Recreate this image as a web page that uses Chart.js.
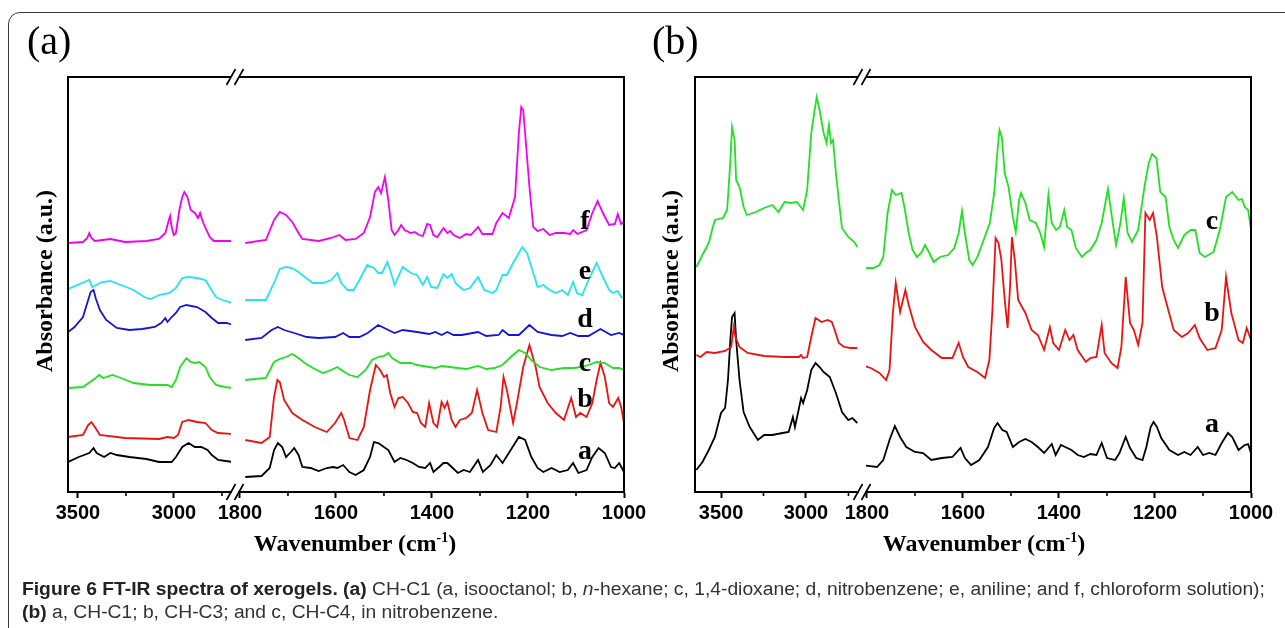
<!DOCTYPE html>
<html><head><meta charset="utf-8">
<script src="https://cdn.jsdelivr.net/npm/chart.js@4/dist/chart.umd.min.js"></script>
<style>
body{margin:0;width:1285px;height:628px;overflow:hidden;background:#fff;position:relative}
canvas{position:absolute;left:0;top:0}
.frame{position:absolute;left:8px;top:12px;width:1330px;height:720px;border:1.5px solid #3a3a3a;border-radius:12px}
.plab{position:absolute;font-family:'Liberation Serif',serif;font-size:40px;line-height:1;color:#000}
.xt{position:absolute;font-family:'Liberation Serif',serif;font-weight:bold;font-size:24px;line-height:1;white-space:nowrap;transform:translateX(-50%)}
.xt sup{font-size:14px;vertical-align:9px;line-height:0}
.yt{position:absolute;font-family:'Liberation Serif',serif;font-weight:bold;font-size:24px;line-height:1;white-space:nowrap;transform:translate(-50%,-50%) rotate(-90deg)}
.cl{position:absolute;font-family:'Liberation Serif',serif;font-weight:bold;font-size:28px;line-height:1;transform:translateX(-50%)}
.cap{position:absolute;left:22px;font-family:'Liberation Sans',sans-serif;font-size:18px;line-height:22px;color:#333;white-space:nowrap;transform:scaleX(1.07);transform-origin:0 0}
.cap b{color:#222}
</style></head><body>
<div class="frame"></div>
<canvas id="aL" width="1285" height="628"></canvas>
<canvas id="aR" width="1285" height="628"></canvas>
<canvas id="bL" width="1285" height="628"></canvas>
<canvas id="bR" width="1285" height="628"></canvas>
<div class="plab" style="left:27px;top:21px">(a)</div>
<div class="plab" style="left:652px;top:21px">(b)</div>
<div class="yt" style="left:44px;top:281px">Absorbance (a.u.)</div>
<div class="yt" style="left:670px;top:281px">Absorbance (a.u.)</div>
<div class="xt" style="left:355px;top:531px">Wavenumber (cm<sup>-1</sup>)</div>
<div class="xt" style="left:984px;top:531px">Wavenumber (cm<sup>-1</sup>)</div>
<div class="cl" style="left:585px;top:206px">f</div>
<div class="cl" style="left:585px;top:256px">e</div>
<div class="cl" style="left:585px;top:304px">d</div>
<div class="cl" style="left:585px;top:348px">c</div>
<div class="cl" style="left:585px;top:384px">b</div>
<div class="cl" style="left:585px;top:436px">a</div>
<div class="cl" style="left:1212px;top:206px">c</div>
<div class="cl" style="left:1212px;top:298px">b</div>
<div class="cl" style="left:1212px;top:409px">a</div>
<div class="cap" style="top:578px"><b>Figure 6 FT-IR spectra of xerogels. (a)</b> CH-C1 (a, isooctanol; b, <i>n</i>-hexane; c, 1,4-dioxane; d, nitrobenzene; e, aniline; and f, chloroform solution);</div>
<div class="cap" style="top:601px"><b>(b)</b> a, CH-C1; b, CH-C3; and c, CH-C4, in nitrobenzene.</div>
<script>
// ---------- Panel (a): wavenumber (cm-1) / absorbance (a.u., offset traces) ----------
const aF_L_wn=[3551,3474,3452,3441,3430,3412,3331,3254,3144,3078,3045,3027,3020,3012,3001,2990,2972,2957,2946,2930,2913,2891,2875,2864,2853,2836,2814,2792,2693];
const aF_L_val=[249,250,254,259,254,251,253,250,251,253,259,272,276,265,257,259,282,295,300,295,282,279,274,279,272,264,255,251,251];
const aF_R_wn=[1789,1746,1729,1717,1704,1691,1678,1670,1636,1610,1593,1580,1559,1542,1529,1519,1512,1506,1498,1491,1484,1478,1470,1464,1457,1444,1436,1427,1419,1410,1404,1397,1389,1376,1368,1362,1355,1342,1329,1319,1304,1295,1274,1266,1253,1240,1227,1219,1214,1210,1206,1197,1189,1180,1168,1155,1142,1125,1112,1106,1097,1078,1066,1055,1044,1031,1019,1013,1006,1000];
const aF_R_val=[249,252,272,280,277,270,259,253,251,254,257,252,253,259,275,300,305,299,315,292,262,257,262,267,262,259,260,257,256,268,267,257,255,264,259,261,257,254,258,257,265,258,258,269,279,274,295,359,385,382,359,305,265,261,263,257,259,259,258,262,258,262,279,291,279,267,268,278,268,270];

const aE_L_wn=[3551,3441,3426,3375,3331,3276,3210,3155,3122,3078,3023,2990,2957,2924,2880,2836,2814,2781,2748,2693];
const aE_L_val=[203,212,205,210,211,207,202,195,193,197,199,204,214,215,214,212,205,195,192,189];
const aE_R_wn=[1789,1746,1729,1717,1704,1691,1678,1665,1648,1627,1610,1597,1589,1576,1563,1551,1535,1521,1512,1504,1493,1487,1478,1461,1444,1431,1419,1410,1402,1389,1376,1368,1359,1351,1342,1334,1321,1304,1291,1274,1266,1253,1244,1231,1212,1202,1189,1180,1168,1155,1142,1129,1117,1106,1098,1087,1074,1057,1044,1031,1023,1013,1006,1000];
const aE_R_val=[192,192,209,223,225,224,220,215,209,209,212,219,209,202,202,212,227,224,219,219,230,222,207,225,219,217,207,215,205,204,218,214,218,209,205,202,204,215,202,199,202,217,217,229,245,239,219,205,207,202,199,202,197,210,199,197,212,229,215,202,199,201,195,194];

const aD_L_wn=[3551,3518,3474,3447,3434,3419,3408,3386,3353,3298,3232,3166,3100,3067,3045,3034,3012,2990,2968,2935,2880,2836,2803,2770,2726,2693];
const aD_L_val=[160,165,175,192,200,202,194,182,172,164,162,163,165,169,174,170,175,179,185,187,185,180,174,169,169,167];
const aD_R_wn=[1789,1755,1734,1721,1708,1687,1661,1636,1602,1585,1572,1551,1534,1512,1495,1478,1461,1431,1406,1393,1380,1368,1355,1338,1304,1287,1261,1253,1240,1219,1197,1180,1151,1129,1112,1095,1074,1049,1027,1010,1000];
const aD_R_val=[152,154,162,165,162,159,155,154,155,159,155,155,159,167,163,159,162,160,158,160,157,160,157,157,160,156,157,162,157,157,167,160,157,156,159,156,156,163,157,159,157];

const aC_L_wn=[3551,3474,3408,3390,3368,3320,3276,3210,3122,3034,3012,2990,2968,2935,2913,2891,2869,2836,2814,2781,2737,2693];
const aC_L_val=[104,105,114,117,114,117,114,109,107,107,105,112,125,134,130,129,130,125,115,107,105,104];
const aC_R_wn=[1789,1746,1729,1717,1704,1691,1678,1665,1648,1627,1610,1597,1589,1572,1555,1538,1525,1512,1500,1491,1483,1466,1444,1431,1406,1393,1380,1363,1346,1329,1304,1287,1270,1253,1236,1219,1206,1193,1176,1151,1125,1104,1091,1074,1057,1040,1023,1010,1000];
const aC_R_val=[112,114,130,133,135,138,134,129,124,119,122,125,122,117,115,122,132,135,136,139,134,129,129,127,125,124,126,125,124,123,126,123,124,127,135,142,139,132,125,122,124,124,125,127,130,129,124,124,122];

const aB_L_wn=[3551,3474,3447,3430,3412,3386,3254,3078,3034,3001,2979,2957,2924,2880,2836,2803,2770,2693];
const aB_L_val=[55,57,67,70,65,57,54,53,55,54,57,70,72,70,69,62,59,58];
const aB_R_wn=[1789,1755,1738,1729,1722,1717,1708,1691,1670,1644,1619,1602,1589,1583,1572,1555,1542,1529,1517,1508,1500,1494,1487,1478,1470,1461,1450,1440,1431,1423,1414,1406,1397,1389,1380,1374,1368,1359,1351,1342,1329,1317,1306,1295,1283,1266,1257,1251,1244,1231,1223,1210,1197,1184,1176,1159,1142,1125,1110,1100,1091,1078,1066,1057,1049,1040,1031,1023,1012,1006,1000];
const aB_R_val=[52,49,55,95,112,110,92,79,72,65,60,69,79,72,54,52,65,102,127,122,115,117,99,85,94,95,89,80,79,69,65,89,69,65,90,84,90,72,65,72,74,79,102,79,62,60,85,115,102,69,89,125,147,125,105,89,79,72,94,75,79,75,89,112,129,115,89,85,94,85,69];

const aA_L_wn=[3551,3496,3441,3419,3403,3364,3331,3298,3232,3144,3078,3012,2990,2957,2924,2891,2858,2825,2803,2770,2693];
const aA_L_val=[30,35,39,44,39,35,39,37,35,33,30,30,35,45,49,45,45,42,37,32,30];
const aA_R_wn=[1789,1755,1738,1729,1721,1712,1704,1694,1687,1678,1670,1653,1636,1619,1606,1597,1585,1572,1559,1542,1529,1521,1512,1500,1491,1478,1466,1453,1440,1427,1414,1404,1397,1385,1376,1368,1359,1346,1334,1321,1304,1294,1278,1266,1253,1236,1219,1206,1193,1180,1168,1151,1134,1117,1106,1095,1078,1066,1053,1040,1027,1019,1010,1000];
const aA_R_val=[15,16,24,42,49,45,35,40,44,37,25,24,21,24,25,24,27,20,17,22,35,50,49,45,42,30,34,32,29,25,24,29,20,25,29,29,25,19,22,20,32,20,27,37,29,42,55,52,35,24,20,24,20,22,29,19,22,35,44,39,25,24,29,20];

// ---------- Panel (b) ----------
const bC_L_wn=[3645,3609,3572,3548,3536,3488,3464,3447,3435,3420,3411,3391,3367,3348,3295,3246,3198,3162,3126,3089,3053,3017,2993,2969,2949,2937,2920,2896,2879,2865,2853,2841,2824,2807,2788,2751,2715,2698];
const bC_L_val=[225,237,249,265,272,274,282,325,365,352,312,305,285,277,280,284,287,280,290,289,290,282,302,359,382,395,382,359,349,367,349,352,319,292,264,255,250,245];
const bC_R_wn=[1812,1787,1774,1766,1757,1748,1740,1728,1722,1713,1705,1696,1687,1679,1670,1661,1648,1631,1618,1609,1602,1596,1587,1580,1570,1557,1544,1535,1528,1524,1519,1513,1505,1496,1490,1483,1479,1470,1461,1448,1439,1431,1422,1415,1406,1398,1389,1383,1374,1365,1352,1344,1335,1322,1311,1298,1291,1281,1272,1265,1257,1248,1235,1222,1213,1206,1197,1189,1178,1170,1161,1152,1139,1126,1116,1107,1096,1078,1065,1052,1039,1026,1019,1013,1006,1000];
const bC_R_val=[224,224,227,235,279,302,297,299,285,259,242,235,239,247,239,230,235,237,244,259,281,259,232,227,235,252,269,299,342,362,355,319,305,275,260,292,299,289,272,269,259,245,297,269,262,265,282,265,262,244,235,239,242,252,269,303,279,247,269,294,259,250,262,305,329,338,334,300,295,265,252,244,257,262,262,239,235,240,262,295,300,292,293,285,282,263];

const bB_L_wn=[3645,3621,3585,3536,3476,3440,3425,3415,3391,3343,3246,3126,3041,3029,3017,2993,2969,2944,2908,2872,2848,2831,2807,2775,2739,2698];
const bB_L_val=[137,135,140,139,141,145,165,155,145,139,136,135,135,137,134,135,155,174,170,172,170,162,149,145,144,144];
const bB_R_wn=[1812,1792,1774,1760,1753,1746,1740,1731,1720,1713,1700,1683,1666,1644,1622,1609,1600,1589,1570,1554,1545,1539,1532,1526,1520,1513,1507,1502,1498,1492,1485,1470,1457,1444,1431,1419,1412,1400,1387,1378,1370,1361,1344,1335,1322,1311,1305,1291,1278,1270,1261,1252,1244,1235,1226,1220,1211,1204,1196,1185,1174,1161,1144,1131,1117,1107,1091,1074,1061,1052,1041,1026,1017,1009,1000];
const bB_R_val=[127,124,119,112,122,179,209,180,202,187,165,150,142,134,134,149,135,125,120,114,132,179,254,249,232,192,164,205,255,232,192,179,162,157,142,165,149,142,162,152,157,142,130,134,135,167,139,129,124,145,215,169,162,147,169,279,272,279,255,205,185,162,155,159,167,154,142,144,162,215,179,152,149,164,152];

const bA_L_wn=[3645,3609,3572,3536,3500,3476,3459,3444,3435,3420,3411,3391,3367,3331,3283,3246,3198,3138,3102,3077,3065,3041,3029,3017,2993,2969,2944,2920,2896,2860,2824,2788,2751,2727,2698];
const bA_L_val=[22,30,42,55,79,84,112,155,175,179,152,112,80,65,52,57,57,59,60,75,65,84,94,89,102,122,129,125,120,115,99,80,72,74,69];
const bA_R_wn=[1812,1779,1766,1753,1742,1731,1718,1700,1683,1666,1644,1622,1605,1596,1583,1566,1548,1535,1528,1518,1509,1496,1483,1470,1457,1444,1431,1415,1407,1396,1387,1374,1361,1348,1335,1322,1311,1300,1283,1274,1261,1252,1239,1226,1218,1209,1203,1196,1187,1170,1152,1139,1126,1111,1100,1087,1074,1061,1048,1039,1026,1013,1006,1000];
const bA_R_val=[27,25,32,52,66,55,45,40,39,32,34,35,44,34,27,32,45,64,69,62,60,45,50,53,50,45,39,48,37,47,45,42,37,35,38,37,49,34,32,39,55,44,34,32,45,65,70,65,54,42,37,40,37,45,37,39,37,49,59,55,42,47,48,39];

// broken x-axis: ranges and tick values of each segment
const aLeftRange=[2703,3552], aRightRange=[1000,1802];
const bLeftRange=[2694,3653], bRightRange=[1000,1802];
const highTicks=[3500,3250,3000,2750];            // labelled every 500
const lowTicks=[1800,1700,1600,1500,1400,1300,1200,1100,1000]; // labelled every 200

const COL={f:'#f200f2',e:'#22e4f2',d:'#1414dc',c:'#22e022',b:'#ee1111',a:'#000000'};

const framePlugin={
  id:'frame',
  afterDraw(chart,args,opts){
    const ctx=chart.ctx, ca=chart.chartArea, sx=chart.scales.x;
    ctx.save();
    ctx.strokeStyle='#000'; ctx.lineWidth=2;
    ctx.beginPath();
    ctx.moveTo(ca.left,ca.top); ctx.lineTo(ca.right,ca.top);
    const vx=opts.side==='left'?ca.left:ca.right;
    ctx.moveTo(vx,ca.top-1); ctx.lineTo(vx,ca.bottom+1);
    ctx.stroke();
    // minor ticks (shorter)
    ctx.lineWidth=1.6;
    sx.ticks.forEach(t=>{
      if(t.value%opts.lab!==0){const px=sx.getPixelForValue(t.value);
        ctx.beginPath();ctx.moveTo(px,ca.bottom);ctx.lineTo(px,ca.bottom+4);ctx.stroke();}
    });
    const bx=opts.side==='left'?ca.right:ca.left;
    [ca.top,ca.bottom].forEach(y=>{ctx.beginPath();ctx.moveTo(bx-4.5,y+8);ctx.lineTo(bx+4.5,y-8);ctx.stroke();});
    ctx.restore();
  }
};

function pts(wn,val){return wn.map((x,i)=>({x:x,y:val[i]}));}

function makeChart(id,left,right,range,tickVals,labStep,sets,side){
  new Chart(document.getElementById(id),{
    type:'line',
    data:{datasets:sets.map(s=>({data:pts(s[0],s[1]),borderColor:s[2],borderWidth:1.8,pointRadius:0,tension:0,fill:false}))},
    options:{
      responsive:false,animation:false,devicePixelRatio:1,
      layout:{padding:{left:left,right:1285-right,top:77,bottom:628-492-40}},
      plugins:{legend:{display:false},tooltip:{enabled:false},frame:{side:side,lab:labStep}},
      scales:{
        x:{type:'linear',reverse:true,min:range[0],max:range[1],
          afterBuildTicks(s){s.ticks=tickVals.map(v=>({value:v}));},
          afterFit(s){s.height=40;s.paddingLeft=0;s.paddingRight=0;},
          border:{display:true,color:'#000',width:2},
          grid:{drawOnChartArea:false,drawTicks:true,tickLength:6,tickWidth:2,
            tickColor:(c)=>(c.tick&&c.tick.value%labStep===0?'#000':'rgba(0,0,0,0)')},
          ticks:{autoSkip:false,maxRotation:0,minRotation:0,color:'#000',padding:3,
            font:{family:'Liberation Sans',weight:'bold',size:20},
            callback:(v)=>(v%labStep===0?String(v):'')}
        },
        y:{display:false,min:0,max:415}
      }
    },
    plugins:[framePlugin]
  });
}

makeChart('aL',68,231,aLeftRange,highTicks,500,[
  [aF_L_wn,aF_L_val,COL.f],[aE_L_wn,aE_L_val,COL.e],[aD_L_wn,aD_L_val,COL.d],
  [aC_L_wn,aC_L_val,COL.c],[aB_L_wn,aB_L_val,COL.b],[aA_L_wn,aA_L_val,COL.a]],'left');
makeChart('aR',239,624,aRightRange,lowTicks,200,[
  [aF_R_wn,aF_R_val,COL.f],[aE_R_wn,aE_R_val,COL.e],[aD_R_wn,aD_R_val,COL.d],
  [aC_R_wn,aC_R_val,COL.c],[aB_R_wn,aB_R_val,COL.b],[aA_R_wn,aA_R_val,COL.a]],'right');
makeChart('bL',695,858,bLeftRange,highTicks,500,[
  [bC_L_wn,bC_L_val,COL.c],[bB_L_wn,bB_L_val,COL.b],[bA_L_wn,bA_L_val,COL.a]],'left');
makeChart('bR',866,1251,bRightRange,lowTicks,200,[
  [bC_R_wn,bC_R_val,COL.c],[bB_R_wn,bB_R_val,COL.b],[bA_R_wn,bA_R_val,COL.a]],'right');
</script>
</body></html>
